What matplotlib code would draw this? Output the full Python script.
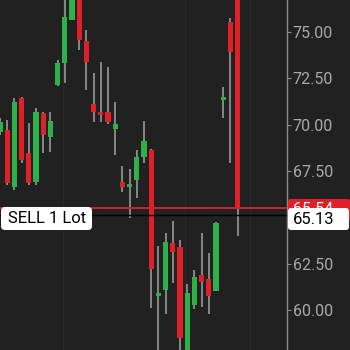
import matplotlib
matplotlib.use("Agg")
import matplotlib.pyplot as plt
from matplotlib.patches import FancyBboxPatch
from matplotlib.transforms import Bbox

plt.rcParams['font.family'] = ['Roboto', 'DejaVu Sans']

# OHLC data (values beyond the visible range are estimated)
opens  = [69.61, 69.72, 66.65, 71.44, 68.48, 66.92, 70.64, 69.34, 72.14, 73.33,
          75.65, 77.30, 74.52, 71.12, 70.69, 70.69, 69.77, 66.92, 66.65, 67.03,
          68.27, 68.64, 60.78, 61.10, 63.63, 63.42, 57.50, 60.29, 61.91, 61.69,
          61.05, 71.34, 75.54, 78.00]
highs  = [70.35, 70.26, 71.44, 71.50, 70.10, 70.91, 70.69, 70.69, 73.49, 77.00,
          77.50, 77.40, 75.11, 72.79, 73.38, 73.11, 71.23, 67.78, 67.62, 68.64,
          70.20, 68.70, 63.47, 64.17, 64.82, 63.79, 61.42, 62.18, 64.17, 63.09,
          64.76, 72.04, 75.75, 78.00]
lows   = [69.45, 66.76, 66.49, 67.94, 66.76, 66.76, 68.48, 68.53, 72.10, 72.25,
          75.65, 74.03, 71.88, 70.15, 70.15, 70.04, 68.37, 66.38, 64.98, 66.06,
          67.94, 60.13, 57.50, 59.81, 61.48, 57.40, 57.30, 60.08, 60.18, 59.81,
          61.05, 70.37, 67.94, 64.01]
closes = [70.15, 66.86, 71.23, 68.10, 66.86, 70.69, 69.45, 70.20, 73.33, 75.81,
          77.20, 74.57, 73.38, 70.69, 70.53, 70.15, 70.04, 66.65, 66.81, 68.27,
          69.13, 62.23, 60.94, 63.69, 63.15, 58.51, 60.94, 61.80, 61.53, 60.78,
          64.71, 71.50, 73.92, 65.54]

y_ticks = [60.0, 62.5, 65.0, 67.5, 70.0, 72.5, 75.0]
y_tick_labels = ["60.00", "62.50", "", "67.50", "70.00", "72.50", "75.00"]
last_price = 65.54
position_price = 65.13
position_label = "SELL 1 Lot"
grid_x = [8.75, 25.7, 34.7]

BG = '#212121'
GREEN = '#2fb14a'
RED = '#df2029'
WICK = '#a3a3a3'

W, H = 350, 350
fig = plt.figure(figsize=(3.5, 3.5), dpi=100, facecolor=BG)
ax = fig.add_axes([0, 0, 287 / W, 1])
ax.set_facecolor(BG)

for gx in grid_x:
    ax.axvline(gx, color='#2a2a2a', lw=1.0, zorder=0)

xs = list(range(len(opens)))
ax.vlines(xs, lows, highs, color=WICK, lw=1.1, zorder=2)
bottoms = [min(o, c) for o, c in zip(opens, closes)]
heights = [max(abs(c - o), 0.15) for o, c in zip(opens, closes)]
colors = [GREEN if c >= o else RED for o, c in zip(opens, closes)]
ax.bar(xs, heights, bottom=bottoms, width=0.72, color=colors, zorder=3, linewidth=0)

ax.axhline(last_price, color='#c62828', lw=1.4, zorder=4)
ax.axhline(position_price, color='#000000', lw=1.0, zorder=4)

ax.set_xlim(0, 287 / 7.2)
ax.set_ylim(57.87, 76.72)

ax.yaxis.tick_right()
ax.set_yticks(y_ticks)
ax.set_yticklabels(y_tick_labels)
ax.tick_params(axis='y', colors='#a9a9a9', labelsize=11.5, length=3, width=0.8,
               pad=1, direction='out')
ax.tick_params(axis='y', color='#8a8a8a')
ax.set_xticks([])
for s in ['top', 'bottom', 'left']:
    ax.spines[s].set_visible(False)
ax.spines['right'].set_color('#8a8a8a')
ax.spines['right'].set_linewidth(1.0)

# price labels on the right (figure pixel coordinates)
def px_box(x0, y0, x1, y1, fc, r=3):
    p = FancyBboxPatch((x0 / W, 1 - y1 / H), (x1 - x0) / W, (y1 - y0) / H,
                       boxstyle=f"round,pad=0,rounding_size={r / W}",
                       transform=fig.transFigure, facecolor=fc, edgecolor='none',
                       zorder=10)
    fig.patches.append(p)

px_box(288, 199, 350, 221, RED, r=2)
t_red = fig.text(293 / W, 1 - 210 / H, f"{last_price:.2f}", color='white', fontsize=11.5,
                 va='center', ha='left', zorder=11)
# only the top sliver of the last-price label shows above the position label
t_red.set_clip_box(Bbox.from_extents(288, H - 208, 350, H - 199))
t_red.set_clip_on(True)
px_box(288, 208, 349, 230, 'white', r=3)
fig.text(293 / W, 1 - 219.5 / H, f"{position_price:.2f}", color='black', fontsize=12,
         va='center', ha='left', zorder=12)

px_box(1, 207, 92, 230, 'white', r=4)
fig.text(8 / W, 1 - 218.5 / H, position_label, color='black', fontsize=12,
         va='center', ha='left', zorder=12)

fig.savefig('out.png', dpi=100, facecolor=BG)
